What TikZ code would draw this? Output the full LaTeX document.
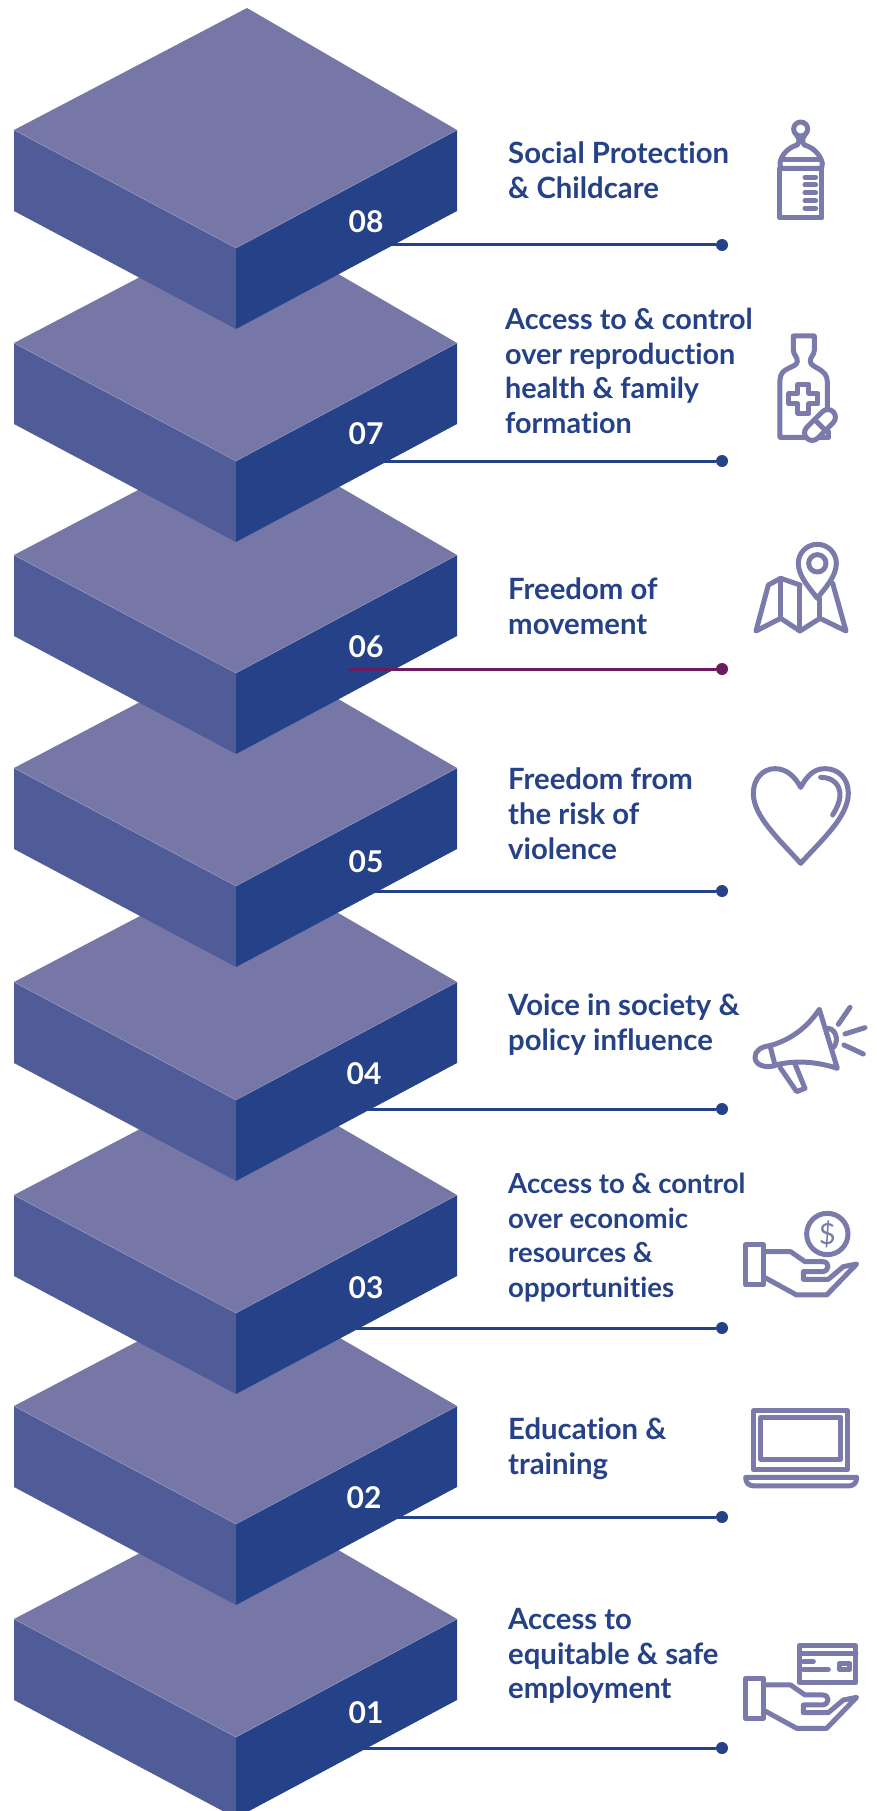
\documentclass[tikz,border=0pt]{standalone}
\usepackage{fontspec}
\setmainfont{Lato}[BoldFont=* Bold,Ligatures=NoCommon]
\definecolor{topc}{HTML}{7677A7}
\definecolor{leftc}{HTML}{4F5C98}
\definecolor{rightc}{HTML}{254187}
\definecolor{edgec}{HTML}{9A9CC4}
\definecolor{iconc}{HTML}{7A7BAB}
\definecolor{purp}{HTML}{6B1B5E}
\tikzset{
  topface/.style={fill=topc},
  leftface/.style={fill=leftc},
  rightface/.style={fill=rightc},
  edgeline/.style={draw=edgec,line width=.5pt},
  numlab/.style={text=white,font=\fontsize{30}{30}\selectfont\bfseries,inner sep=0pt,anchor=center},
  lab/.style={text=rightc,font=\fontsize{29.3}{34.6}\selectfont\bfseries,inner sep=0pt,anchor=north west,align=left},
  labm/.style={lab,font=\fontsize{28.8}{34.6}\selectfont\bfseries},
  labs/.style={lab,font=\fontsize{27.6}{34.6}\selectfont\bfseries},
  dotn/.style={circle,fill=#1,minimum size=12pt,inner sep=0pt},
  conn/.style={draw=#1,line width=3pt},
  ic/.style={draw=iconc,line width=5pt,line join=round,line cap=round},
  icz/.style={x=.33333pt,y=-.33333pt},
}
\newcommand{\blockat}[2]{% y of side corners, number
  \begin{scope}[shift={(0,#1)}]
    \fill[topface] (14,0) -- (247,-122) -- (457,0) -- (236,118) -- cycle;
    \fill[leftface] (14,0) -- (236,118) -- (236,199) -- (14,81) -- cycle;
    \fill[rightface] (236,118) -- (457,0) -- (457,81) -- (236,199) -- cycle;
    \draw[edgeline] (14,0) -- (236,118) -- (457,0);
  \end{scope}
}
\newcommand{\handicon}{%
  \draw[ic] (137,0) rectangle (190,120);
  \draw[ic] (192,20) -- (272,20) -- (315,50) -- (368,50) .. controls (390,50) and (390,80) .. (365,80) -- (310,80) -- (310,103) -- (385,103) -- (430,65) -- (470,57) -- (380,150) -- (290,150) -- (195,98);
}
\begin{document}
\begin{tikzpicture}[x=1pt,y=-1pt]
\useasboundingbox (0,0) rectangle (876,1811);
\clip (0,0) rectangle (876,1811);
\fill[white] (0,0) rectangle (876,1811);
% connectors behind the blocks
\foreach \n/\sx/\yy in {c8/380/245,c7/370/461,c5/360/891,c4/350/1109,c3/340/1328,c2/380/1517,c1/350/1748}{
  \coordinate (\n s) at (\sx,\yy);
  \node[dotn=rightc] (\n d) at (722,\yy) {};
  \draw[conn=rightc] (\n s) -- (\n d);
}
% blocks, lowest first
\blockat{1619}{01}
\blockat{1406}{02}
\blockat{1195}{03}
\blockat{982}{04}
\blockat{768}{05}
\blockat{555}{06}
\blockat{343}{07}
\blockat{130}{08}
% connector 06 lies over its block
\coordinate (c6s) at (349,669);
\node[dotn=purp] (c6d) at (722,669) {};
\draw[conn=purp] (c6s) -- (c6d);
% numbers
\node[numlab] (n8) at (366,222) {08};
\node[numlab] (n7) at (366,434) {07};
\node[numlab] (n6) at (366,647) {06};
\node[numlab] (n5) at (366,862) {05};
\node[numlab] (n4) at (364,1074) {04};
\node[numlab] (n3) at (366,1288) {03};
\node[numlab] (n2) at (364,1498) {02};
\node[numlab] (n1) at (366,1713) {01};
% labels
\node[lab] (t8) at (508,142) {Social Protection\\\& Childcare};
\node[labm] (t7) at (505,308) {Access to \& control\\over reproduction\\health \& family\\formation};
\node[lab] (t6) at (508,578) {Freedom of\\movement};
\node[lab] (t5) at (508,768) {Freedom from\\the risk of\\violence};
\node[lab] (t4) at (508,994) {Voice in society \&\\policy influence};
\node[labs] (t3) at (508,1173) {Access to \& control\\over economic\\resources \&\\opportunities};
\node[lab] (t2) at (508,1418) {Education \&\\training};
\node[lab] (t1) at (508,1608) {Access to\\equitable \& safe\\employment};
% icon: baby bottle
\begin{scope}[icz,shift={(2100,300)}]
  \draw[ic] (302,87) circle (21);
  \draw[ic] (290,106) .. controls (300,118) and (298,125) .. (292,135) .. controls (265,142) and (243,165) .. (240,190) -- (242,205) -- (365,205) -- (367,190) .. controls (362,165) and (340,142) .. (313,135) .. controls (307,125) and (305,118) .. (314,106);
  \draw[ic] (250,178) -- (357,178);
  \draw[ic] (240,205) -- (240,354) -- (366,354) -- (366,205);
  \foreach \q in {232,255,278,302,325}{\draw[ic] (315,\q) -- (347,\q);}
\end{scope}
% icon: medicine bottle
\begin{scope}[icz,shift={(2100,300)}]
  \draw[ic] (312,1012) -- (240,1012) -- (240,840) .. controls (240,800) and (290,805) .. (292,785) .. controls (293,770) and (280,765) .. (280,750) -- (280,708) -- (343,708) -- (343,750) .. controls (343,765) and (330,770) .. (331,785) .. controls (333,805) and (382,805) .. (382,845) -- (382,925);
  \draw[ic] (358,1012) -- (385,1012) -- (385,995);
  \draw[ic] (294,853) -- (327,853) -- (327,880) -- (354,880) -- (354,912) -- (327,912) -- (327,940) -- (294,940) -- (294,912) -- (267,912) -- (267,880) -- (294,880) -- cycle;
  \begin{scope}[shift={(360,975)},rotate=45]
    \draw[ic,fill=white] (-33,-23) -- (33,-23) arc (-90:90:23) -- (-33,23) arc (90:270:23) -- cycle;
    \draw[ic] (0,-23) -- (0,23);
  \end{scope}
\end{scope}
% icon: map
\begin{scope}[icz,shift={(2100,1560)}]
  \draw[ic] (300,195) -- (242,175) -- (205,195) -- (168,333) -- (242,295) -- (300,333) -- (360,295) -- (438,333) -- (398,190);
  \draw[ic] (242,175) -- (242,295);
  \draw[ic] (300,195) -- (300,333);
  \draw[ic] (360,235) -- (360,295);
  \draw[ic,fill=white] (352,235) .. controls (330,205) and (295,170) .. (295,130) arc (180:360:57) .. controls (409,170) and (374,205) .. (352,235) -- cycle;
  \draw[ic] (352,130) circle (26);
\end{scope}
% icon: heart
\begin{scope}[icz,shift={(2100,1560)}]
  \draw[ic] (302,1030) .. controls (240,960) and (160,890) .. (160,820) .. controls (160,775) and (190,746) .. (225,746) .. controls (260,746) and (285,770) .. (302,802) .. controls (320,770) and (340,746) .. (375,746) .. controls (415,746) and (445,775) .. (445,820) .. controls (445,890) and (365,960) .. (302,1030) -- cycle;
  \draw[ic] (362,772) .. controls (400,772) and (420,795) .. (420,825) .. controls (420,845) and (410,865) .. (398,885);
\end{scope}
% icon: megaphone
\begin{scope}[icz,shift={(2100,2940)}]
  \draw[ic] (358,88) -- (412,265) .. controls (350,245) and (290,240) .. (225,255) -- (210,197) .. controls (270,180) and (320,145) .. (358,88) -- cycle;
  \draw[ic] (385,145) .. controls (415,150) and (415,195) .. (396,205);
  \draw[ic] (210,197) .. controls (180,200) and (165,215) .. (165,232) .. controls (165,255) and (195,265) .. (225,257);
  \draw[ic] (240,262) -- (290,335) -- (315,325) -- (285,252);
  \draw[ic] (415,133) -- (450,82);
  \draw[ic] (435,162) -- (495,143);
  \draw[ic] (432,195) -- (490,222);
\end{scope}
% icon: coin in hand
\begin{scope}[icz,shift={(2100,2940)}]
  \draw[ic] (382,762) circle (62);
  \node[text=iconc,font=\fontsize{29}{29}\selectfont,inner sep=0pt] (dollar) at (382,762) {\$};
  \begin{scope}[shift={(0,795)}]\handicon\end{scope}
\end{scope}
% icon: laptop
\begin{scope}[icz,shift={(2100,4170)}]
  \draw[ic] (162,62) rectangle (443,240);
  \draw[ic] (183,82) rectangle (422,208);
  \draw[ic] (137,262) -- (470,262) .. controls (470,280) and (460,288) .. (445,288) -- (165,288) .. controls (147,288) and (137,280) .. (137,262) -- cycle;
\end{scope}
% icon: card in hand
\begin{scope}[icz,shift={(2100,4170)}]
  \draw[ic] (298,768) rectangle (468,878);
  \draw[ic] (298,790) -- (468,790);
  \draw[ic] (310,815) -- (340,815);
  \draw[ic] (310,838) -- (385,838);
  \draw[ic] (418,820) rectangle (450,838);
  \begin{scope}[shift={(0,865)}]\handicon\end{scope}
\end{scope}
\end{tikzpicture}
\end{document}
